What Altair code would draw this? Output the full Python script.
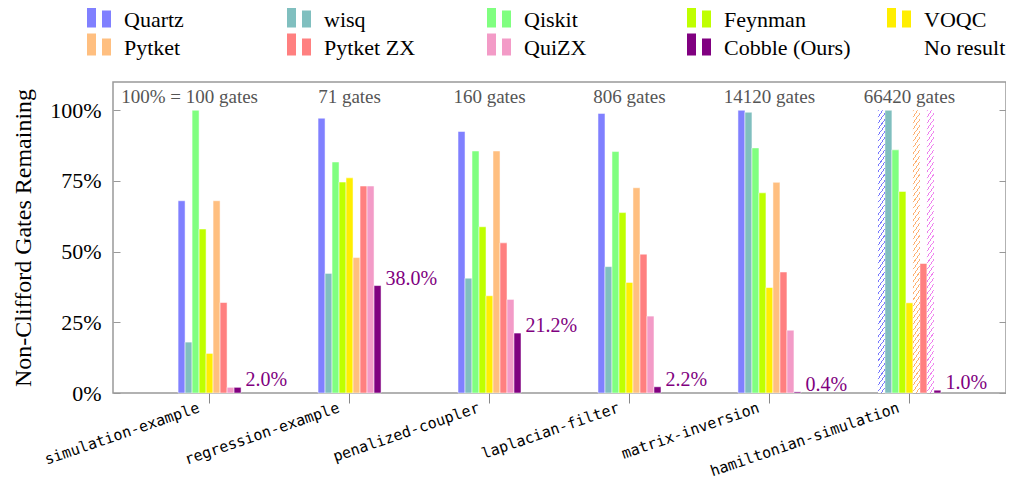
import altair as alt
import pandas as pd

benchmarks = ["simulation-example", "regression-example", "penalized-coupler",
              "laplacian-filter", "matrix-inversion", "hamiltonian-simulation"]
gate_counts = [100, 71, 160, 806, 14120, 66420]
tools = ["Quartz", "wisq", "Qiskit", "Feynman", "VOQC",
         "Pytket", "Pytket ZX", "QuiZX", "Cobble (Ours)"]
tool_colors = ["#8080ff", "#80bfbf", "#80ff80", "#bfff00", "#ffee00",
               "#ffbf80", "#ff8080", "#f39bc7", "#800080"]
hatch_colors = {"Quartz": "#7878ff", "Pytket": "#ffb070", "QuiZX": "#ee80ee"}
no_result_label = "No result"

# percent of non-Clifford gates remaining (None = no result)
quartz = [68, 97.2, 92.5, 98.9, 100, None]
wisq = [18, 42.3, 40.6, 44.7, 99.3, 100]
qiskit = [100, 81.7, 85.6, 85.4, 86.7, 86.0]
feynman = [58, 74.6, 58.8, 63.8, 70.8, 71.3]
voqc = [14, 76.1, 34.4, 39.1, 37.3, 31.9]
pytket = [68, 47.9, 85.6, 72.6, 74.5, None]
pytket_zx = [32, 73.2, 53.1, 49.1, 42.8, 45.8]
quizx = [2, 73.2, 33.1, 27.2, 22.2, None]
cobble = [2.0, 38.0, 21.2, 2.2, 0.4, 1.0]
no_result_height = 100

series = [quartz, wisq, qiskit, feynman, voqc, pytket, pytket_zx, quizx, cobble]

rows = []
for tool, vals in zip(tools, series):
    for b, v in zip(benchmarks, vals):
        rows.append({"benchmark": b, "tool": tool, "value": v})
df = pd.DataFrame(rows)
ok = df[df["value"].notna()].copy()
missing = df[df["value"].isna()].copy()
missing["value"] = no_result_height

cob = pd.DataFrame({"benchmark": benchmarks, "value": cobble,
                    "label": [f"{v:.1f}%" for v in cobble]})
top = pd.DataFrame({"benchmark": benchmarks,
                    "label": [f"{g} gates" for g in gate_counts]})
top.loc[0, "label"] = f"100% = {gate_counts[0]} gates"

W, H = 893, 311
SERIF = "Liberation Serif"

x_scale = alt.Scale(domain=benchmarks, paddingInner=0.55, paddingOuter=0.465)
xo_scale = alt.Scale(domain=tools, paddingInner=0, paddingOuter=0)
y_scale = alt.Scale(domain=[0, 110], nice=False)

legend_path = "M-1,-1.2H-0.25V0.62H-1Z M0.25,-0.8H1V0.62H0.25Z"

x_axis = alt.Axis(title=None, labelAngle=341, labelFont="DejaVu Sans Mono",
                  labelFontSize=15, labelColor="black", labelAlign="right",
                  labelBaseline="top", labelPadding=-3, labelOffset=-13,
                  labelLimit=500, tickSize=10, tickColor="#888", domain=False)
y_axis = alt.Axis(values=[0, 25, 50, 75, 100], labelExpr="datum.value + '%'",
                  labelFont=SERIF, labelFontSize=22, labelColor="black",
                  labelPadding=12, tickSize=7, tickColor="#999", offset=-7,
                  domain=False, grid=False, title="Non-Clifford Gates Remaining",
                  titleFont=SERIF, titleFontSize=24, titleFontWeight="normal",
                  titleColor="black", titlePadding=14)
y_axis_right = alt.Axis(values=[0, 25, 50, 75, 100], orient="right", labels=False,
                        tickSize=7, tickColor="#999", offset=-7, domain=False,
                        grid=False, title=None)

bars = alt.Chart(ok).mark_bar(stroke="white", strokeWidth=0.5).encode(
    x=alt.X("benchmark:N", scale=x_scale, axis=x_axis, sort=benchmarks),
    xOffset=alt.XOffset("tool:N", scale=xo_scale, sort=tools),
    y=alt.Y("value:Q", scale=y_scale, axis=y_axis),
    color=alt.Color("tool:N",
                    scale=alt.Scale(domain=tools + [no_result_label],
                                    range=tool_colors + ["white"]),
                    legend=alt.Legend(orient="none", legendX=-26, legendY=-74,
                                      direction="horizontal", columns=5, title=None,
                                      symbolType=legend_path, symbolSize=576,
                                      symbolStrokeWidth=0, symbolOpacity=1,
                                      labelFont=SERIF, labelFontSize=22,
                                      labelColor="black", labelOffset=13,
                                      columnPadding=36, rowPadding=2,
                                      gridAlign="all", padding=0, labelLimit=300)),
)

# hatch pattern via a striped linear gradient
bw = 63.0 / 9
bh = 283.0
q = 0.7 * bh / bw
a = (1 + q) / (1 + q * q)
b = q * a


def hatch(color, periods=48, frac=0.24):
    stops = []
    p = 1.0 / periods
    for i in range(periods):
        s = i * p
        stops += [{"offset": s, "color": color},
                  {"offset": s + frac * p, "color": color},
                  {"offset": s + frac * p, "color": "white"},
                  {"offset": s + p, "color": "white"}]
    return {"gradient": "linear", "x1": 0, "y1": 0, "x2": a, "y2": b, "stops": stops}


hatch_layers = []
for tool in missing["tool"].unique():
    sub = missing[missing["tool"] == tool]
    hatch_layers.append(
        alt.Chart(sub).mark_bar(fill=hatch(hatch_colors[tool]), strokeWidth=0).encode(
            x=alt.X("benchmark:N", scale=x_scale, sort=benchmarks),
            xOffset=alt.XOffset("tool:N", scale=xo_scale, sort=tools),
            y=alt.Y("value:Q", scale=y_scale, axis=None),
        )
    )

cob_text = alt.Chart(cob).mark_text(align="left", baseline="alphabetic", dx=36, dy=-1,
                                    font=SERIF, fontSize=20, color="#800080").encode(
    x=alt.X("benchmark:N", scale=x_scale, sort=benchmarks),
    y=alt.Y("value:Q", scale=y_scale, axis=y_axis_right),
    text="label:N",
)

top_first = alt.Chart(top.iloc[:1]).mark_text(align="center", baseline="middle", dx=-20,
                                              font=SERIF, fontSize=19, color="#555").encode(
    x=alt.X("benchmark:N", scale=x_scale, sort=benchmarks),
    y=alt.value(15),
    text="label:N",
)
top_rest = alt.Chart(top.iloc[1:]).mark_text(align="center", baseline="middle",
                                             font=SERIF, fontSize=19, color="#555").encode(
    x=alt.X("benchmark:N", scale=x_scale, sort=benchmarks),
    y=alt.value(15),
    text="label:N",
)

chart = alt.layer(bars, *hatch_layers, cob_text, top_first, top_rest).resolve_axis(
    y="independent"
).properties(
    width=W, height=H,
    autosize=alt.AutoSizeParams(type="none"),
    padding={"left": 105, "top": 74, "right": 0, "bottom": 89},
).configure_view(stroke="#999", strokeWidth=1.5)

chart.save("out.html", embed_options={"renderer": "svg", "actions": False})
